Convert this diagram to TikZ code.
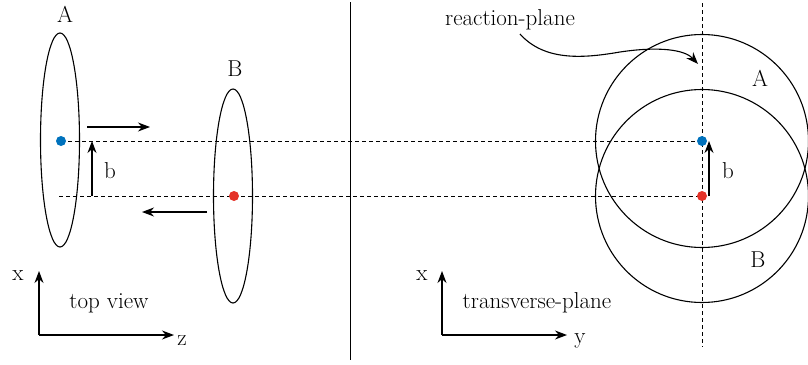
\documentclass[tikz,border=0pt]{standalone}
\usetikzlibrary{arrows.meta,shapes.geometric}
\begin{document}
\begin{tikzpicture}[x=1pt,y=-1pt,
  every node/.style={font=\fontsize{23}{26}\selectfont},
  ln/.style={line width=1.1pt},
  dsh/.style={line width=1pt,dash pattern=on 4pt off 3pt},
  arr/.style={ln,-{Stealth[length=12pt,width=9pt]}},
  dotb/.style={circle,fill={rgb,255:red,0;green,114;blue,189},inner sep=0pt,minimum size=10pt},
  dotr/.style={circle,fill={rgb,255:red,228;green,50;blue,40},inner sep=0pt,minimum size=10pt},
  nucl/.style={draw,ln,ellipse,inner sep=0pt,minimum width=39pt,minimum height=214pt},
  ring/.style={draw,ln,circle,inner sep=0pt,minimum size=213pt}]
\useasboundingbox (0,0) rectangle (808,364);
% coordinates
\coordinate (pA) at (61,141);
\coordinate (pB) at (234,196);
\coordinate (qA) at (702,141);
\coordinate (qB) at (702,196);
\coordinate (lowstart) at (59,196);
\coordinate (vtop) at (702,3);
\coordinate (vbot) at (702,347);
\coordinate (septop) at (350,2);
\coordinate (sepbot) at (350,360);
% left ellipses
\node[nucl] (ellA) at (60,140) {};
\node[nucl] (ellB) at (233,196) {};
\node (labA) at (65,14) {A};
\node (labB) at (235,69) {B};
% right circles
\node[ring] (cA) at (qA) {};
\node[ring] (cB) at (qB) {};
\node (labRA) at (760,78) {A};
\node (labRB) at (758,260) {B};
% dashed lines
\draw[dsh] (pA) -- (qA);
\draw[dsh] (lowstart) -- (qB);
\draw[dsh] (vtop) -- (vbot);
% separator
\draw[line width=1pt] (septop) -- (sepbot);
% dots
\node[dotb] (dA) at (pA) {};
\node[dotr] (dB) at (pB) {};
\node[dotb] (dRA) at (qA) {};
\node[dotr] (dRB) at (qB) {};
% motion arrows
\coordinate (m1s) at (87,127); \coordinate (m1e) at (150,127);
\coordinate (m2s) at (207,212); \coordinate (m2e) at (142,212);
\draw[arr] (m1s) -- (m1e);
\draw[arr] (m2s) -- (m2e);
% impact parameter arrows
\coordinate (b1s) at (92,196); \coordinate (b1e) at (92,141);
\draw[arr] (b1s) -- (b1e);
\node (lb1) at (110,171) {b};
\coordinate (b2s) at (709,196); \coordinate (b2e) at (709,141);
\draw[arr] (b2s) -- (b2e);
\node (lb2) at (728,171) {b};
% axes left
\coordinate (o1) at (39,335);
\coordinate (o1x) at (39,271);
\coordinate (o1z) at (174,335);
\draw[arr] (o1) -- (o1x);
\draw[arr] (o1) -- (o1z);
\node (ax1) at (18,276) {x};
\node (az1) at (182,341) {z};
\node (tv) at (109,303) {top view};
% axes right
\coordinate (o2) at (442,335);
\coordinate (o2x) at (442,271);
\coordinate (o2y) at (567,335);
\draw[arr] (o2) -- (o2x);
\draw[arr] (o2) -- (o2y);
\node (ax2) at (422,276) {x};
\node (ay2) at (580,341) {y};
\node (tp) at (537,303) {transverse-plane};
% reaction plane
\node (rp) at (510,20) {reaction-plane};
\coordinate (rps) at (520,34);
\coordinate (rpe) at (698,64);
\draw[ln,-{Stealth[length=12pt,width=9pt]}] (rps) .. controls (545,62) and (585,58) .. (620,52) .. controls (660,46) and (685,50) .. (rpe);
\end{tikzpicture}
\end{document}
